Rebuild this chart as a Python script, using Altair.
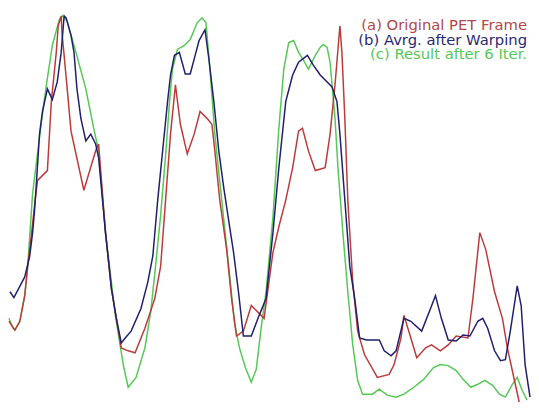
import altair as alt
import pandas as pd

# (a) Original PET Frame
red_x = [1, 7, 12, 17, 20, 24, 27, 30, 40, 44, 49, 51, 54, 55, 57, 64, 77, 89, 92, 99, 105, 110, 115, 122, 129,
         139, 149, 155, 160, 165, 170, 175, 182, 189, 195, 202, 207, 210, 215, 222, 227, 232, 239, 247, 255, 260,
         269, 275, 282, 289, 295, 299, 305, 312, 322, 327, 332, 337, 339, 342, 345, 350, 355, 362, 375, 387, 392,
         399, 402, 409, 415, 424, 430, 439, 447, 455, 467, 472, 479, 485, 494, 502, 507, 512, 519]
red_y = [82, 73, 82, 108, 138, 172, 200, 225, 235, 305, 355, 382, 392, 372, 352, 275, 215, 255, 262, 172, 115, 85,
         55, 52, 50, 75, 105, 138, 205, 272, 322, 282, 252, 272, 295, 288, 282, 255, 205, 155, 105, 67, 72, 98, 90,
         85, 152, 178, 205, 238, 275, 278, 255, 235, 238, 272, 322, 382, 355, 288, 205, 122, 72, 48, 25, 28, 38,
         65, 88, 65, 45, 55, 58, 52, 58, 67, 65, 105, 172, 155, 112, 85, 55, 32, 0]

# (b) Avrg. after Warping
blue_x = [2, 6, 17, 22, 25, 27, 29, 32, 35, 40, 45, 50, 54, 57, 59, 64, 67, 70, 74, 79, 84, 89, 92, 99, 105, 110,
          115, 119, 125, 135, 142, 147, 152, 157, 162, 165, 169, 174, 180, 185, 190, 194, 200, 204, 209, 214, 219,
          225, 229, 234, 239, 247, 255, 262, 269, 275, 282, 289, 295, 304, 310, 317, 322, 329, 334, 337, 342, 347,
          352, 357, 364, 377, 382, 389, 394, 402, 409, 420, 429, 434, 440, 447, 455, 462, 469, 477, 482, 487, 494,
          500, 505, 510, 517, 521, 525, 530]
blue_y = [112, 106, 127, 148, 172, 195, 225, 272, 295, 318, 307, 325, 355, 392, 390, 372, 355, 318, 288, 265, 272,
          262, 248, 172, 115, 85, 60, 65, 72, 95, 122, 148, 205, 255, 305, 332, 352, 355, 333, 333, 352, 367, 378,
          348, 305, 255, 218, 178, 152, 112, 67, 67, 88, 105, 172, 238, 305, 332, 345, 352, 342, 332, 327, 320,
          305, 272, 205, 138, 105, 65, 63, 63, 52, 47, 52, 85, 82, 72, 95, 108, 85, 63, 62, 68, 67, 82, 85, 75,
          52, 42, 43, 72, 118, 98, 38, 5]

# (c) Result after 6 Iter.
green_x = [1, 5, 7, 12, 17, 20, 25, 34, 39, 45, 52, 55, 60, 69, 79, 87, 92, 99, 109, 117, 122, 130, 139, 145, 150,
           155, 160, 164, 167, 172, 179, 185, 192, 197, 201, 205, 210, 217, 224, 230, 235, 241, 247, 252, 257, 262,
           269, 275, 280, 285, 290, 295, 300, 305, 312, 317, 320, 324, 327, 329, 332, 335, 340, 345, 350, 355, 360,
           370, 377, 385, 394, 402, 412, 422, 432, 439, 447, 455, 462, 470, 477, 484, 492, 499, 505, 512, 517, 522,
           527]
green_y = [85, 75, 73, 82, 108, 138, 212, 285, 322, 362, 388, 392, 387, 355, 318, 278, 255, 172, 88, 38, 15, 25,
           55, 92, 140, 190, 250, 305, 338, 358, 362, 368, 385, 390, 385, 338, 272, 205, 138, 80, 55, 35, 20, 33,
           75, 112, 188, 278, 338, 365, 367, 355, 347, 338, 352, 360, 363, 360, 345, 322, 288, 238, 172, 112, 58,
           22, 8, 8, 13, 7, 5, 8, 15, 23, 35, 38, 37, 32, 23, 15, 18, 22, 17, 8, 5, 18, 25, 12, 2]

labels = ["(a) Original PET Frame", "(b) Avrg. after Warping", "(c) Result after 6 Iter."]
line_colors = ["#bb3b3b", "#1f1f6e", "#55c855"]
text_colors = ["#b04848", "#2a2a72", "#55c855"]

rows = []
for lab, xs, ys in [(labels[0], red_x, red_y), (labels[1], blue_x, blue_y), (labels[2], green_x, green_y)]:
    for i, (xv, yv) in enumerate(zip(xs, ys)):
        rows.append({"series": lab, "pos": xv, "val": yv, "order": i})
df = pd.DataFrame(rows)

xscale = alt.Scale(domain=[0, 523], nice=False, zero=False)
yscale = alt.Scale(domain=[5, 397], nice=False, zero=False)

draw_order = [labels[2], labels[0], labels[1]]
layers = []
for lab in draw_order:
    c = line_colors[labels.index(lab)]
    layers.append(
        alt.Chart(df[df.series == lab]).mark_line(strokeWidth=1.5, color=c, clip=False).encode(
            x=alt.X("pos:Q", scale=xscale, axis=None),
            y=alt.Y("val:Q", scale=yscale, axis=None),
            order="order:Q",
        )
    )

legend_df = pd.DataFrame({"label": labels, "color": text_colors, "row": [0, 1, 2]})
text_layers = []
for i, lab in enumerate(labels):
    text_layers.append(
        alt.Chart(legend_df[legend_df.label == lab]).mark_text(
            align="right", baseline="alphabetic", font="DejaVu Sans", fontSize=15,
            color=text_colors[i]
        ).encode(
            x=alt.value(527),
            y=alt.value(19 + 15 * i),
            text="label:N",
        )
    )

chart = alt.layer(*layers, *text_layers).properties(
    width=523, height=392,
    autosize=alt.AutoSizeParams(type="none"),
    padding={"left": 0, "top": 0, "right": 8, "bottom": 8},
    background="white",
).configure_view(stroke=None)

chart.save("out.html", embed_options={"renderer": "svg", "actions": False})
